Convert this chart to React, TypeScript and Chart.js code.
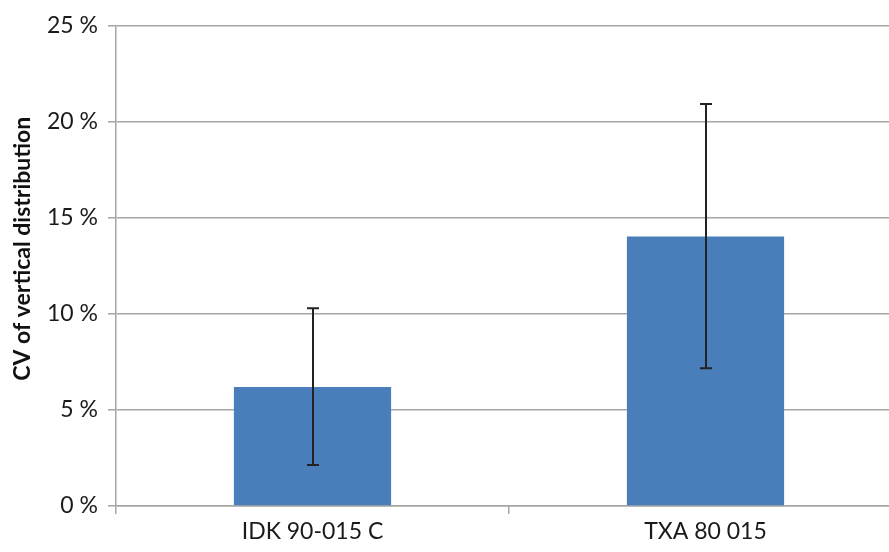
import React, { useEffect, useRef } from "react";
import { Chart, registerables } from "chart.js";

Chart.register(...registerables);

const categories = ["IDK 90-015 C", "TXA 80 015"];
const meanValues = [6.2, 14.03];
const errorLow = [2.13, 7.17];
const errorHigh = [10.3, 20.94];
const yTicks = [0, 5, 10, 15, 20, 25];
const yTitle = "CV of vertical distribution";

const errorBarPlugin = {
  id: "errorBars",
  afterDatasetsDraw(chart: any) {
    const ctx = chart.ctx;
    const x = chart.scales.x;
    const y = chart.scales.y;
    ctx.save();
    ctx.strokeStyle = "#222222";
    ctx.lineWidth = 2;
    categories.forEach((_, i) => {
      const cx = Math.round(x.getPixelForValue(i));
      const yt = y.getPixelForValue(errorHigh[i]);
      const yb = y.getPixelForValue(errorLow[i]);
      ctx.beginPath();
      ctx.moveTo(cx, yt);
      ctx.lineTo(cx, yb);
      ctx.moveTo(cx - 6, yt);
      ctx.lineTo(cx + 6, yt);
      ctx.moveTo(cx - 6, yb);
      ctx.lineTo(cx + 6, yb);
      ctx.stroke();
    });
    ctx.restore();
  },
};

const yTitlePlugin = {
  id: "yTitle",
  afterDraw(chart: any) {
    const ctx = chart.ctx;
    const y = chart.scales.y;
    const cy = y.getPixelForValue(13.4);
    ctx.save();
    ctx.translate(23, cy);
    ctx.rotate(-Math.PI / 2);
    ctx.textAlign = "center";
    ctx.textBaseline = "middle";
    ctx.fillStyle = "#111111";
    ctx.font = "bold 23px Lato";
    ctx.fillText(yTitle, 0, 0);
    ctx.restore();
  },
};

export default function App() {
  const ref = useRef<HTMLCanvasElement | null>(null);
  useEffect(() => {
    if (!ref.current) return;
    const chart = new Chart(ref.current, {
      type: "bar",
      data: {
        labels: categories,
        datasets: [
          {
            data: meanValues,
            backgroundColor: "#4a7ebb",
            borderWidth: 0,
            barPercentage: 0.4,
            categoryPercentage: 1,
          },
        ],
      },
      options: {
        responsive: false,
        animation: false,
        layout: { padding: { top: 26, right: 0, left: 0, bottom: 0 } },
        plugins: { legend: { display: false }, tooltip: { enabled: false } },
        scales: {
          x: {
            afterFit: (s: any) => {
              s.height = 46;
            },
            grid: {
              offset: true,
              drawOnChartArea: false,
              drawTicks: true,
              tickLength: 8,
              color: "#a6a6a6",
              lineWidth: 1.5,
            },
            border: { color: "#a6a6a6", width: 1.5 },
            ticks: {
              color: "#1a1a1a",
              font: { family: "Lato", size: 23 },
              padding: 4,
            },
          },
          y: {
            min: 0,
            max: 25,
            afterFit: (s: any) => {
              s.width = 116;
            },
            afterBuildTicks: (s: any) => {
              s.ticks = yTicks.map((v) => ({ value: v }));
            },
            grid: {
              color: "#a6a6a6",
              lineWidth: 1.5,
              tickLength: 8,
            },
            border: { color: "#a6a6a6", width: 1.5 },
            ticks: {
              color: "#1a1a1a",
              font: { family: "Lato", size: 23 },
              padding: 10,
              callback: (v: any) => v + " %",
            },
            title: { display: false },
          },
        },
      },
      plugins: [errorBarPlugin, yTitlePlugin],
    });
    return () => chart.destroy();
  }, []);
  return (
    <div
      style={{
        position: "fixed",
        left: 0,
        top: 0,
        width: 889,
        height: 552,
        overflow: "hidden",
        background: "#ffffff",
      }}
    >
      <canvas ref={ref} width={902} height={552} style={{ display: "block" }} />
    </div>
  );
}
